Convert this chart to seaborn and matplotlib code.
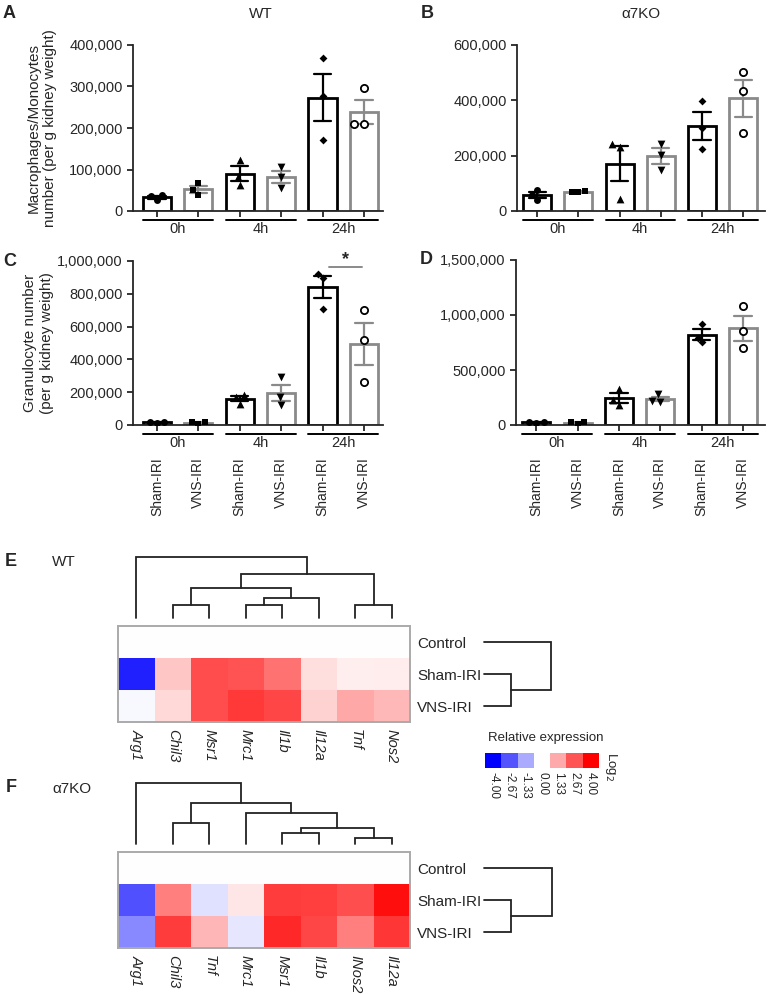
import numpy as np
import pandas as pd
import matplotlib
matplotlib.use("Agg")
import matplotlib.pyplot as plt
import seaborn as sns
from matplotlib.colors import LinearSegmentedColormap
from matplotlib.ticker import FuncFormatter

# ---------------- data ----------------
timepoints = ["0h", "4h", "24h"]
treatments = ["Sham-IRI", "VNS-IRI"]

# per-animal values; order: 0h Sham, 0h VNS, 4h Sham, 4h VNS, 24h Sham, 24h VNS
macro_wt = [[37800, 25700, 36200], [67600, 39400, 49900], [124000, 63600, 82000],
            [106000, 82000, 55500], [369500, 277000, 172000], [297000, 209000, 209000]]
macro_ko = [[77000, 38600, 56700], [72400, 68800, 68800], [241000, 231700, 42200],
            [243800, 204000, 147000], [398000, 300500, 223000], [503000, 434500, 282400]]
gran_wt = [[17000, 14000, 16000], [18000, 8000, 16000], [180000, 170000, 128000],
           [290000, 122000, 169000], [921000, 897000, 709000], [699000, 517000, 260600]]
gran_ko = [[20000, 27000, 25000], [28000, 10000, 26000], [330000, 230000, 180000],
           [279000, 212000, 218000], [918000, 751000, 788000], [1082000, 854000, 697000]]

macro_wt_ticks = [0, 100000, 200000, 300000, 400000]
macro_ko_ticks = [0, 200000, 400000, 600000]
gran_wt_ticks = [0, 200000, 400000, 600000, 800000, 1000000]
gran_ko_ticks = [0, 500000, 1000000, 1500000]

heat_rows = ["Control", "Sham-IRI", "VNS-IRI"]
wt_genes = ["Arg1", "Chil3", "Msr1", "Mrc1", "Il1b", "Il12a", "Tnf", "Nos2"]
wt_control = [0, 0, 0, 0, 0, 0, 0, 0]
wt_sham = [-3.5, 0.9, 2.8, 2.7, 2.2, 0.5, 0.25, 0.3]
wt_vns = [-0.1, 0.6, 2.8, 3.1, 2.9, 0.7, 1.35, 1.1]
ko_genes = ["Arg1", "Chil3", "Tnf", "Mrc1", "Msr1", "Il1b", "INos2", "Il12a"]
ko_control = [0, 0, 0, 0, 0, 0, 0, 0]
ko_sham = [-2.75, 2.0, -0.5, 0.4, 3.05, 3.0, 2.75, 3.75]
ko_vns = [-1.85, 3.05, 1.15, -0.4, 3.35, 2.9, 2.0, 3.15]

# dendrogram merges (child a, child b, height); new cluster ids continue after leaves
wt_col_link = [(1, 2, 13), (3, 4, 13), (6, 7, 13), (9, 5, 20), (8, 11, 30), (12, 10, 44), (0, 13, 61)]
ko_col_link = [(4, 5, 11), (6, 7, 6), (8, 9, 16), (1, 2, 21), (3, 10, 31), (11, 12, 41), (0, 13, 61)]
wt_row_link = [(1, 2, 27), (0, 3, 67)]
ko_row_link = [(1, 2, 27), (0, 3, 68)]

legend_values = [-4.00, -2.67, -1.33, 0.00, 1.33, 2.67, 4.00]

# ---------------- style ----------------
sns.set_style("ticks")
plt.rcParams["font.family"] = ["Liberation Sans", "DejaVu Sans"]
plt.rcParams["axes.linewidth"] = 1.3

W, H = 770, 994
fig = plt.figure(figsize=(W / 100, H / 100), dpi=100)


def add_ax(x0, y0, x1, y1):
    return fig.add_axes([x0 / W, 1 - y1 / H, (x1 - x0) / W, (y1 - y0) / H])


def ftext(x, y, s, **kw):
    fig.text(x / W, 1 - y / H, s, **kw)


GRAY = "#8a8a8a"
markers = ["o", "s", "^", "v", "D", "o"]
msizes = [5, 4.6, 5.6, 5.6, 4.0, 5.2]


def bar_panel(ax, values, yticks, xlim, show_labels, ax_h):
    order = [f"{t} {tr}" for t in timepoints for tr in treatments]
    rows = []
    for i, c in enumerate(order):
        for v in values[i]:
            rows.append({"cond": c, "val": v})
    df = pd.DataFrame(rows)
    sns.barplot(data=df, x="cond", y="val", order=order, errorbar="se", capsize=0.42,
                width=0.68, color="white", edgecolor="black", linewidth=2.0,
                err_kws={"linewidth": 1.6, "color": "black"}, ax=ax)
    for p in ax.patches:
        idx = int(round(p.get_x() + p.get_width() / 2))
        p.set_facecolor("white")
        p.set_edgecolor("black" if idx % 2 == 0 else GRAY)
    for ln in ax.lines:
        idx = int(round(np.nanmean(ln.get_xdata())))
        ln.set_color("black" if idx % 2 == 0 else GRAY)
        ln.set_zorder(3)
    for i, c in enumerate(order):
        sub = df[df["cond"] == c]
        if i == 5:
            sns.swarmplot(data=sub, x="cond", y="val", order=order, marker="o",
                          color="white", edgecolor="black", linewidth=1.3,
                          size=msizes[i], ax=ax, zorder=4)
        else:
            sns.swarmplot(data=sub, x="cond", y="val", order=order, marker=markers[i],
                          color="black", linewidth=0, size=msizes[i], ax=ax, zorder=4)
    ax.set_xlim(*xlim)
    ax.set_ylim(0, yticks[-1])
    ax.set_yticks(yticks)
    ax.yaxis.set_major_formatter(FuncFormatter(lambda v, p: f"{v:,.0f}"))
    ax.tick_params(axis="y", labelsize=10.5, length=4, width=1.3)
    ax.set_xticks(range(6))
    ax.tick_params(axis="x", length=4, width=1.3, direction="out")
    if show_labels:
        ax.set_xticklabels([tr for t in timepoints for tr in treatments], rotation=90,
                           fontsize=10, va="top")
        ax.tick_params(axis="x", pad=19)
    else:
        ax.set_xticklabels([])
    ax.set_xlabel("")
    ax.set_ylabel("")
    sns.despine(ax=ax)
    trans = ax.get_xaxis_transform()
    yline = -8.5 / ax_h
    ylab = -18 / ax_h
    for g, t in enumerate(timepoints):
        ax.plot([2 * g - 0.34, 2 * g + 1.35], [yline, yline], color="black", lw=1.4,
                transform=trans, clip_on=False)
        ax.text(2 * g + 0.5, ylab, t, transform=trans, ha="center", va="center", fontsize=10.5)


# Panel A
axA = add_ax(133, 45, 383, 211)
bar_panel(axA, macro_wt, macro_wt_ticks, (-0.58, 5.46), False, 166)
axA.set_ylabel("Macrophages/Monocytes\nnumber (per g kidney weight)", fontsize=11)
axA.yaxis.set_label_coords(-0.305, 0.5)

# Panel B
axB = add_ax(517, 45, 765, 211)
bar_panel(axB, macro_ko, macro_ko_ticks, (-0.49, 5.53), False, 166)

# Panel C
axC = add_ax(133, 261, 383, 425)
bar_panel(axC, gran_wt, gran_wt_ticks, (-0.58, 5.46), True, 164)
axC.set_ylabel("Granulocyte number\n(per g kidney weight)", fontsize=11)
axC.yaxis.set_label_coords(-0.318, 0.5)
axC.plot([4.15, 4.95], [963000, 963000], color=GRAY, lw=1.4, clip_on=False)
axC.text(4.55, 1010000, "*", ha="center", va="center", fontsize=13, fontweight="bold",
         clip_on=False)

# Panel D
axD = add_ax(516, 260, 765, 425)
bar_panel(axD, gran_ko, gran_ko_ticks, (-0.49, 5.53), True, 165)

# titles and letters
ftext(261, 14, "WT", ha="center", va="center", fontsize=11)
ftext(641, 14, "α7KO", ha="center", va="center", fontsize=11)
ftext(3, 13, "A", ha="left", va="center", fontsize=13, fontweight="bold")
ftext(421, 13, "B", ha="left", va="center", fontsize=13, fontweight="bold")
ftext(3, 261, "C", ha="left", va="center", fontsize=13, fontweight="bold")
ftext(420, 259, "D", ha="left", va="center", fontsize=13, fontweight="bold")
ftext(5, 562, "E", ha="left", va="center", fontsize=13, fontweight="bold")
ftext(6, 788, "F", ha="left", va="center", fontsize=13, fontweight="bold")
ftext(52, 562, "WT", ha="left", va="center", fontsize=11)
ftext(52, 789, "α7KO", ha="left", va="center", fontsize=11)

cmap = LinearSegmentedColormap.from_list("bwr_log", ["#0000ff", "#ffffff", "#ff0000"])


def draw_dendro(ax, links, n, orient):
    pos = {i: i + 0.5 for i in range(n)}
    hgt = {i: 0.0 for i in range(n)}
    for k, (a, b, h) in enumerate(links):
        xa, xb = pos[a], pos[b]
        if orient == "top":
            ax.plot([xa, xa, xb, xb], [hgt[a], h, h, hgt[b]], color="#222222", lw=1.3,
                    clip_on=False, solid_joinstyle="miter")
        else:
            ax.plot([hgt[a], h, h, hgt[b]], [xa, xa, xb, xb], color="#222222", lw=1.3,
                    clip_on=False, solid_joinstyle="miter")
        pos[n + k] = (xa + xb) / 2
        hgt[n + k] = h
    ax.axis("off")


def heat_panel(top, genes, control, sham, vns, col_link, row_link):
    hx0, hx1 = 118, 410
    hy0, hy1 = top, top + 96
    axh = add_ax(hx0, hy0, hx1, hy1)
    df = pd.DataFrame([control, sham, vns], index=heat_rows, columns=genes)
    sns.heatmap(df, cmap=cmap, vmin=-4, vmax=4, cbar=False, ax=axh, linewidths=0)
    axh.yaxis.tick_right()
    axh.set_yticklabels(heat_rows, rotation=0, fontsize=11, ha="left")
    axh.set_xticklabels(genes, rotation=-90, fontsize=10.5, fontstyle="italic", va="top")
    axh.tick_params(axis="both", length=0)
    axh.tick_params(axis="y", pad=5)
    axh.tick_params(axis="x", pad=5)
    axh.set_xlabel("")
    axh.set_ylabel("")
    for s in axh.spines.values():
        s.set_visible(True)
        s.set_color("#aaaaaa")
        s.set_linewidth(1.4)
    axd = add_ax(hx0, top - 69, hx1, top - 8)
    draw_dendro(axd, col_link, len(genes), "top")
    axd.set_xlim(0, len(genes))
    axd.set_ylim(0, 61)
    axr = add_ax(484, hy0, 554, hy1)
    draw_dendro(axr, row_link, 3, "right")
    axr.set_xlim(0, 70)
    axr.set_ylim(3, 0)


heat_panel(626, wt_genes, wt_control, wt_sham, wt_vns, wt_col_link, wt_row_link)
heat_panel(852, ko_genes, ko_control, ko_sham, ko_vns, ko_col_link, ko_row_link)

# colour legend
ftext(488, 738, "Relative expression", ha="left", va="center", fontsize=9.5)
axl = add_ax(485, 753, 599, 768)
sns.heatmap(pd.DataFrame([legend_values]), cmap=cmap, vmin=-4, vmax=4, cbar=False, ax=axl,
            xticklabels=[f"{v:.2f}" for v in legend_values], yticklabels=False)
axl.set_xticklabels([f"{v:.2f}" for v in legend_values], rotation=-90, fontsize=8.5, va="top")
axl.tick_params(axis="x", length=0, pad=3)
axl.set_xlabel("")
axl.set_ylabel("")
ftext(603, 752, "Log$_2$", ha="left", va="top", rotation=-90, fontsize=9.5)

fig.savefig("out.png", dpi=100)
